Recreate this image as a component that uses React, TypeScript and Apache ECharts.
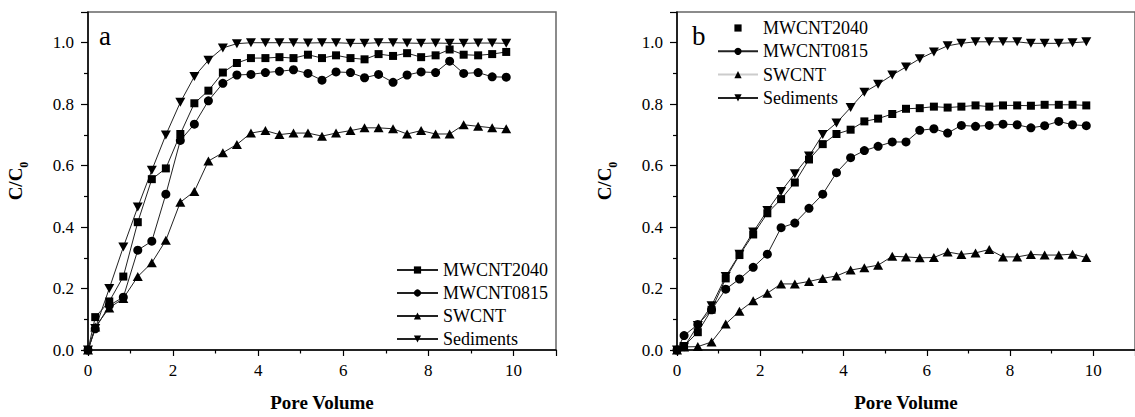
import React, { useEffect, useRef } from "react";
import * as echarts from "echarts";

// Pore volume sampling (shared by every series)
const poreVolume = [
  0, 0.17, 0.5, 0.83, 1.17, 1.5, 1.83, 2.17, 2.5, 2.83, 3.17, 3.5, 3.83, 4.17, 4.5, 4.83,
  5.17, 5.5, 5.83, 6.17, 6.5, 6.83, 7.17, 7.5, 7.83, 8.17, 8.5, 8.83, 9.17, 9.5, 9.83,
];

const seriesNames = ["MWCNT2040", "MWCNT0815", "SWCNT", "Sediments"];

// Panel a
const aMWCNT2040 = [
  0, 0.107, 0.158, 0.239, 0.416, 0.556, 0.591, 0.703, 0.803, 0.844, 0.903, 0.934,
  0.95, 0.95, 0.953, 0.95, 0.961, 0.95, 0.959, 0.95, 0.946, 0.963, 0.957, 0.966, 0.953,
  0.959, 0.978, 0.961, 0.959, 0.963, 0.97,
];
const aMWCNT0815 = [
  0, 0.069, 0.145, 0.172, 0.325, 0.354, 0.507, 0.682, 0.735, 0.811, 0.868, 0.895,
  0.897, 0.903, 0.907, 0.912, 0.9, 0.878, 0.905, 0.903, 0.886, 0.897, 0.871, 0.895, 0.905,
  0.903, 0.94, 0.9, 0.903, 0.889, 0.888,
];
const aSWCNT = [
  0, 0.075, 0.137, 0.168, 0.239, 0.284, 0.357, 0.481, 0.516, 0.615, 0.642, 0.669,
  0.706, 0.714, 0.701, 0.706, 0.706, 0.696, 0.706, 0.714, 0.723, 0.723, 0.72, 0.703, 0.714,
  0.703, 0.703, 0.733, 0.728, 0.723, 0.72,
];
const aSediments = [
  0, 0.07, 0.2, 0.335, 0.465, 0.585, 0.7, 0.806, 0.89, 0.943, 0.983, 0.997,
  1.0, 1.0, 1.0, 1.0, 0.999, 1.0, 1.0, 0.998, 0.998, 1.0, 1.0, 0.999, 0.998,
  0.999, 0.998, 0.998, 0.999, 0.999, 0.998,
];

// Panel b
const bMWCNT2040 = [
  0, 0.013, 0.058, 0.131, 0.233, 0.309, 0.376, 0.445, 0.491, 0.545, 0.62, 0.67,
  0.703, 0.717, 0.744, 0.753, 0.768, 0.785, 0.787, 0.792, 0.789, 0.792, 0.796, 0.792, 0.796,
  0.796, 0.795, 0.798, 0.798, 0.798, 0.796,
];
const bMWCNT0815 = [
  0, 0.047, 0.083, 0.131, 0.198, 0.231, 0.269, 0.312, 0.398, 0.413, 0.461, 0.507,
  0.577, 0.626, 0.649, 0.663, 0.677, 0.677, 0.715, 0.72, 0.706, 0.731, 0.728, 0.731, 0.735,
  0.733, 0.723, 0.73, 0.744, 0.733, 0.73,
];
const bSWCNT = [
  0, 0.01, 0.011, 0.026, 0.085, 0.126, 0.16, 0.185, 0.215, 0.215, 0.223, 0.233,
  0.241, 0.26, 0.268, 0.276, 0.305, 0.303, 0.3, 0.301, 0.319, 0.311, 0.316, 0.327, 0.303,
  0.303, 0.311, 0.309, 0.309, 0.312, 0.301,
];
const bSediments = [
  0, 0.01, 0.08, 0.144, 0.239, 0.312, 0.384, 0.454, 0.516, 0.574, 0.631, 0.701,
  0.739, 0.789, 0.839, 0.865, 0.895, 0.921, 0.948, 0.97, 0.99, 0.998, 1.003, 1.003, 1.003,
  1.003, 0.998, 0.998, 0.998, 1.0, 1.003,
];

const panelA = [aMWCNT2040, aMWCNT0815, aSWCNT, aSediments];
const panelB = [bMWCNT2040, bMWCNT0815, bSWCNT, bSediments];

const FONT = "Liberation Serif";
const DOWN_TRIANGLE = "path://M0,0L10,0L5,9Z";
const symbols = ["rect", "circle", "triangle", DOWN_TRIANGLE];
const symbolSizes: any[] = [8, 9, [10, 9], [10, 9]];

function makeSeries(values: number[][], panel: number) {
  return values.map((vals, i) => ({
    type: "line",
    name: seriesNames[i],
    xAxisIndex: panel,
    yAxisIndex: panel,
    data: poreVolume.map((x, k) => [x, vals[k]]),
    symbol: symbols[i],
    symbolSize: symbolSizes[i],
    showAllSymbol: true,
    itemStyle: { color: "#000" },
    lineStyle: { color: "#222", width: 1 },
    emphasis: { disabled: true },
  }));
}

function xAxis(grid: number) {
  return {
    type: "value",
    gridIndex: grid,
    min: 0,
    max: 11,
    interval: 2,
    name: "Pore Volume",
    nameLocation: "middle",
    nameGap: 43,
    nameTextStyle: { fontSize: 19, fontWeight: "bold", fontFamily: FONT, color: "#000" },
    axisLine: { show: true, lineStyle: { color: "#000", width: 1.5 } },
    axisTick: { show: true, length: 6, lineStyle: { color: "#000", width: 1.2 } },
    minorTick: { show: true, splitNumber: 2, length: 3.5, lineStyle: { color: "#000", width: 1.2 } },
    splitLine: { show: false },
    axisLabel: {
      fontSize: 17,
      fontFamily: FONT,
      color: "#000",
      margin: 12,
      showMaxLabel: false,
    },
  };
}

function yAxis(grid: number) {
  return {
    type: "value",
    gridIndex: grid,
    min: 0,
    max: 1.1,
    interval: 0.2,
    name: "{a|C/C}{b|0}",
    nameLocation: "middle",
    nameGap: 58,
    nameRotate: 90,
    nameTextStyle: {
      rich: {
        a: { fontSize: 19, fontWeight: "bold", fontFamily: FONT, color: "#000", lineHeight: 24, verticalAlign: "top" },
        b: { fontSize: 12, fontWeight: "bold", fontFamily: FONT, color: "#000", lineHeight: 12, verticalAlign: "bottom" },
      },
    },
    axisLine: { show: true, lineStyle: { color: "#000", width: 1.5 } },
    axisTick: { show: true, length: 7, lineStyle: { color: "#000", width: 1.2 } },
    minorTick: { show: true, splitNumber: 2, length: 4, lineStyle: { color: "#000", width: 1.2 } },
    splitLine: { show: false },
    axisLabel: {
      fontSize: 17,
      fontFamily: FONT,
      color: "#000",
      margin: 14,
      showMaxLabel: false,
      formatter: (v: number) => v.toFixed(1),
    },
  };
}

const legendText = { fontSize: 18, fontFamily: FONT, color: "#000", lineHeight: 18 };

export default function App() {
  const ref = useRef<HTMLDivElement>(null);
  useEffect(() => {
    document.body.style.margin = "0";
    if (!ref.current) return;
    const chart = echarts.init(ref.current, undefined, { renderer: "svg" });
    chart.setOption({
      animation: false,
      backgroundColor: "#fff",
      textStyle: { fontFamily: FONT },
      grid: [
        { left: 88, top: 12, width: 468, height: 342, show: true, borderColor: "#666", borderWidth: 1.5, backgroundColor: "transparent" },
        { left: 677, top: 12, width: 467.5, height: 342, show: true, borderColor: "#666", borderWidth: 1.5, backgroundColor: "transparent" },
      ],
      xAxis: [xAxis(0), xAxis(1)],
      yAxis: [yAxis(0), yAxis(1)],
      legend: [
        {
          orient: "vertical",
          left: 396,
          top: 261,
          padding: 0,
          itemWidth: 41,
          itemHeight: 9,
          itemGap: 5,
          selectedMode: false,
          textStyle: legendText,
          data: seriesNames,
        },
        {
          orient: "vertical",
          left: 717,
          top: 19,
          padding: 0,
          itemWidth: 40,
          itemHeight: 9,
          itemGap: 5.3,
          selectedMode: false,
          textStyle: legendText,
          data: [
            { name: seriesNames[0], lineStyle: { opacity: 0 } },
            { name: seriesNames[1] },
            { name: seriesNames[2], lineStyle: { color: "#ccc" } },
            { name: seriesNames[3] },
          ],
        },
      ],
      graphic: [
        { type: "text", left: 99, top: 22, style: { text: "a", font: `27px "Liberation Serif"`, fill: "#000" } },
        { type: "text", left: 692, top: 22, style: { text: "b", font: `27px "Liberation Serif"`, fill: "#000" } },
      ],
      series: [...makeSeries(panelA, 0), ...makeSeries(panelB, 1)],
    });
    return () => chart.dispose();
  }, []);
  return <div ref={ref} style={{ width: 1135, height: 417 }} />;
}
